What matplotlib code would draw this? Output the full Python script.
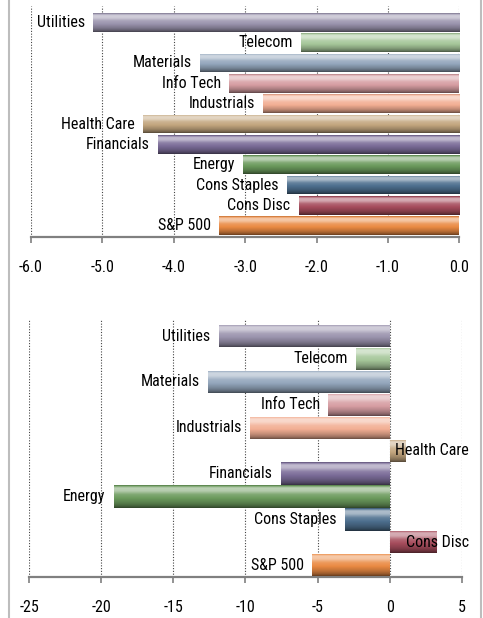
import numpy as np
import matplotlib
matplotlib.use('Agg')
import matplotlib.pyplot as plt
import matplotlib.font_manager as fm
from matplotlib.colors import to_rgb
from matplotlib.lines import Line2D

# sectors, listed top to bottom
sectors = ['Utilities', 'Telecom', 'Materials', 'Info Tech', 'Industrials',
           'Health Care', 'Financials', 'Energy', 'Cons Staples', 'Cons Disc',
           'S&P 500']
top_vals = [-5.13, -2.22, -3.63, -3.22, -2.75, -4.43, -4.22, -3.03, -2.41,
            -2.25, -3.36]
bot_vals = [-11.85, -2.31, -12.58, -4.25, -9.69, 1.09, -7.52, -19.13, -3.08,
            3.24, -5.39]
top_ticks = [-6.0, -5.0, -4.0, -3.0, -2.0, -1.0, 0.0]
bot_ticks = [-25, -20, -15, -10, -5, 0, 5]

colors = ['#9a93ad', '#a6c79a', '#93a6bc', '#d69da2', '#f2ae93', '#c3a67e',
          '#7b6c98', '#6b9a5c', '#4d6f8e', '#a64c5c', '#ea8a43']

# look for a narrow face (the original uses a condensed Calibri look)
narrow = None
for pref in ['Liberation Sans Narrow', 'Roboto Condensed', 'Open Sans Condensed',
             'DejaVu Sans']:
    for f in fm.fontManager.ttflist:
        if f.name.startswith(pref) and f.style == 'normal' and f.weight in (400, 'normal', 'regular') \
                and ('Narrow' in f.name or 'Condensed' in f.name or f.stretch != 'normal'):
            narrow = f.fname
            break
    if narrow:
        break
if narrow:
    fp = fm.FontProperties(fname=narrow, size=11.5)
else:
    fp = fm.FontProperties(family='Liberation Sans', size=10.5)

W, H, DPI = 483, 618, 100
fig = plt.figure(figsize=(W / DPI, H / DPI), dpi=DPI)

# shading profile across each bar, top -> bottom (+ lighten, - darken)
prof_t = [0.0, 0.05, 0.12, 0.25, 0.4, 0.6, 0.8, 0.93, 1.0]
prof_f = [-0.2, 0.2, 0.55, 0.5, 0.15, -0.02, -0.2, -0.38, -0.55]


def shade(c, n=40):
    c = np.array(to_rgb(c))
    t = np.linspace(0, 1, n)
    f = np.interp(t, prof_t, prof_f)
    rows = []
    for v in f:
        if v >= 0:
            rows.append(c + (1 - c) * v)
        else:
            rows.append(c * (1 + v))
    return np.array(rows)[:, None, :]


def panel(rect, vals, ticks, xlim, ylim, hgt, fmt):
    ax = fig.add_axes(rect)
    n = len(vals)
    ys = np.arange(n)[::-1]
    bars = ax.barh(ys, vals, height=hgt, color=colors, zorder=2)
    for b, c in zip(bars, colors):
        x0, y0 = b.get_x(), b.get_y()
        im = ax.imshow(shade(c), extent=(x0, x0 + b.get_width(), y0, y0 + b.get_height()),
                       aspect='auto', interpolation='bilinear', zorder=3)
        im.set_clip_path(b)
    ax.set_xlim(*xlim)
    ax.set_ylim(*ylim)
    ax.set_aspect('auto')
    ax.set_xticks(ticks)
    ax.set_xticklabels([fmt.format(t) for t in ticks], fontproperties=fp)
    ax.set_yticks([])
    for s in ['top', 'right', 'left']:
        ax.spines[s].set_visible(False)
    ax.spines['bottom'].set_color('#808080')
    ax.spines['bottom'].set_linewidth(1.6)
    ax.tick_params(axis='x', direction='out', length=4, width=1.2,
                   color='#808080', pad=12.5)
    ax.grid(axis='x', linestyle=(0, (1, 1.5)), color='#444444', linewidth=0.8,
            zorder=0)
    ax.set_axisbelow(True)
    pos = []
    for y, v, name in zip(ys, vals, sectors):
        if v < 0:
            ax.annotate(name, (v, y), xytext=(-6, 0), textcoords='offset points',
                        ha='right', va='center', fontproperties=fp, zorder=5)
        else:
            t = ax.annotate(name, (v, y), xytext=(2, 0), textcoords='offset points',
                            ha='left', va='center', fontproperties=fp, zorder=5,
                            annotation_clip=False)
            pos.append(t)
    return ax, pos


ax1, p1 = panel([31 / W, 1 - 237 / H, 428.3 / W, 231 / H], top_vals, top_ticks,
                (-6, 0), (-0.55, 10.8), 0.92, '{:.1f}')
ax2, p2 = panel([29.3 / W, 1 - 576.7 / H, 432.4 / W, 256.7 / H], bot_vals, bot_ticks,
                (-25, 5), (-0.5, 10.7), 0.97, '{:g}')

# keep labels of positive bars inside the chart area
fig.canvas.draw()
r = fig.canvas.get_renderer()
lim = 469
for t in p1 + p2:
    bb = t.get_window_extent(r)
    if bb.x1 > lim:
        dx, dy = t.xyann
        t.xyann = (dx - (bb.x1 - lim) * 72 / DPI, dy)

# chart borders
for x in [8.5, 481]:
    fig.add_artist(Line2D([x / W, x / W], [0, 1], color='#bdbdbd', linewidth=1.5))

fig.savefig('out.png', dpi=DPI)
